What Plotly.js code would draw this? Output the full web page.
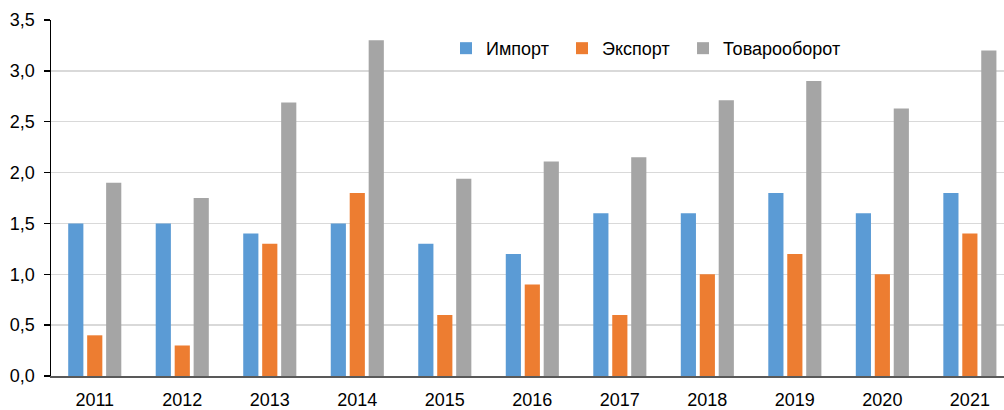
<!DOCTYPE html>
<html><head><meta charset="utf-8">
<script src="https://cdn.plot.ly/plotly-3.0.1.min.js"></script>
<style>html,body{margin:0;padding:0;overflow:hidden;background:#fff}#chart{width:1004px;height:410px}</style>
</head><body><div id="chart"></div>
<script>
const years = ['2011','2012','2013','2014','2015','2016','2017','2018','2019','2020','2021'];
const importVals = [1.5,1.5,1.4,1.5,1.3,1.2,1.6,1.6,1.8,1.6,1.8];
const exportVals = [0.4,0.3,1.3,1.8,0.6,0.9,0.6,1.0,1.2,1.0,1.4];
const turnoverVals = [1.9,1.75,2.69,3.3,1.94,2.11,2.15,2.71,2.9,2.63,3.2];
const seriesNames = ['Импорт','Экспорт','Товарооборот'];
const yTicks = [0,0.5,1,1.5,2,2.5,3,3.5];

const colors = ['#5B9BD5','#ED7D31','#A5A5A5'];
const legendIds = ['legend','legend2','legend3'];
const legendX = [0.4145, 0.5362, 0.6632];
const data = [importVals, exportVals, turnoverVals].map((v,i)=>({
  type:'bar', x: years, y: v, name: seriesNames[i], legend: legendIds[i],
  marker:{color: colors[i]}, hoverinfo:'skip'
}));
const FONT = '"Liberation Sans", Arial, sans-serif';
const layout = {
  width:1004, height:410,
  margin:{l:51, r:0, t:20, b:34},
  paper_bgcolor:'#fff', plot_bgcolor:'#fff',
  font:{family:FONT, size:18, color:'#000'},
  separators:',.',
  barmode:'group', bargap:0.35, bargroupgap:0.2,
  xaxis:{type:'category', range:[-0.5,10.39], showgrid:false, showline:true, linecolor:'#595959', linewidth:1.5,
    ticks:'', tickfont:{size:18}, ticklabelstandoff:7, fixedrange:true},
  yaxis:{range:[0,3.5], tickvals:yTicks, tickformat:'.1f', showgrid:true, gridcolor:'#d9d9d9', gridwidth:1.5,
    showline:true, linecolor:'#000', linewidth:1.5, ticks:'outside', ticklen:6, tickcolor:'#000', tickwidth:1.5,
    tickfont:{size:18}, ticklabelstandoff:5, zeroline:false, fixedrange:true},
  showlegend:true
};
legendIds.forEach((id,i)=>{
  layout[id] = {orientation:'h', x:legendX[i], xanchor:'left', y:0.92, yanchor:'middle',
    bgcolor:'rgba(0,0,0,0)', font:{size:18}, itemwidth:30};
});
Plotly.newPlot('chart', data, layout, {displayModeBar:false, staticPlot:true});
</script></body></html>
